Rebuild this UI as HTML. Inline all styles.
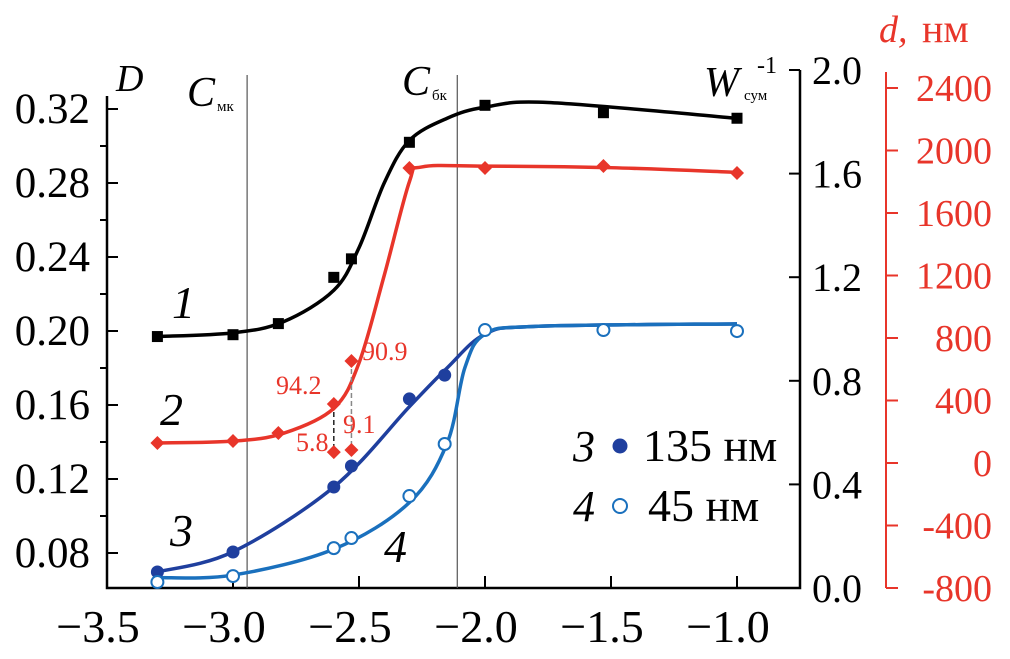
<!DOCTYPE html>
<html><head><meta charset="utf-8"><style>
body{margin:0;background:#fff;}
svg{display:block;font-family:"Liberation Serif","DejaVu Serif",serif;}
</style></head><body>
<svg id="chart" width="1010" height="659" viewBox="0 0 1010 659" xmlns="http://www.w3.org/2000/svg">
<g id="axes"></g><g id="curves"></g><g id="marks"></g><g id="texts"></g>
</svg>
<script>
// ---- data ----
const xTicks = [-3.5, -3.0, -2.5, -2.0, -1.5, -1.0];
const xTickLabels = ["\u22123.5","\u22123.0","\u22122.5","\u22122.0","\u22121.5","\u22121.0"];
const dTicks = [0.08, 0.12, 0.16, 0.20, 0.24, 0.28, 0.32];
const dTickLabels = ["0.08","0.12","0.16","0.20","0.24","0.28","0.32"];
const wTicks = [0.0, 0.4, 0.8, 1.2, 1.6, 2.0];
const wTickLabels = ["0.0","0.4","0.8","1.2","1.6","2.0"];
const nmTicks = [-800, -400, 0, 400, 800, 1200, 1600, 2000, 2400];
const nmTickLabels = ["-800","-400","0","400","800","1200","1600","2000","2400"];

const s1x = [-3.3, -3.0, -2.82, -2.6, -2.53, -2.3, -2.0, -1.53, -1.0];
const s1y = [0.197, 0.198, 0.204, 0.229, 0.239, 0.302, 0.322, 0.318, 0.315];
const s2x = [-3.3, -3.0, -2.82, -2.6, -2.53, -2.3, -2.0, -1.53, -1.0];
const s2y = [128, 141, 192, 378, 653, 1888, 1888, 1901, 1856];
const s2lowX = [-2.6, -2.53];
const s2lowY = [70, 83];
const s3x = [-3.3, -3.0, -2.6, -2.53, -2.3, -2.16];
const s3y = [0.062, 0.139, 0.39, 0.471, 0.73, 0.822];
const s4x = [-3.3, -3.0, -2.6, -2.53, -2.3, -2.16, -2.0, -1.53, -1.0];
const s4y = [0.023, 0.046, 0.154, 0.193, 0.355, 0.556, 0.996, 0.996, 0.992];

const fit1x = [-3.3, -3.0, -2.8, -2.6, -2.5, -2.4, -2.3, -2.15, -2.0, -1.75, -1.0];
const fit1y = [0.197, 0.199, 0.205, 0.222, 0.245, 0.28, 0.303, 0.315, 0.321, 0.3235, 0.315];
const fit2x = [-3.3, -3.0, -2.8, -2.6, -2.5, -2.4, -2.3, -2.25, -2.0, -1.5, -1.0];
const fit2y = [128, 140, 190, 350, 640, 1200, 1800, 1895, 1900, 1890, 1860];
const fit3x = [-3.3, -3.0, -2.6, -2.3, -2.15, -2.0, -1.8, -1.0];
const fit3y = [0.062, 0.14, 0.39, 0.7, 0.85, 0.98, 1.01, 1.02];
const fit4x = [-3.3, -3.0, -2.6, -2.3, -2.15, -2.08, -2.0, -1.8, -1.0];
const fit4y = [0.04, 0.05, 0.15, 0.33, 0.56, 0.85, 0.98, 1.01, 1.02];

// ---- scales ----
const X = v => 107 + (v + 3.5) * 252;
const YD = v => 109 + (0.32 - v) / 0.04 * 74;
const YW = v => 588 - v / 0.4 * 103.6;
const YN = v => 88 + (2400 - v) / 400 * 62.5;

const NS = "http://www.w3.org/2000/svg";
function mk(parent, tag, attrs, text) {
  const e = document.createElementNS(NS, tag);
  for (const k in attrs) e.setAttribute(k, attrs[k]);
  if (text !== undefined) e.textContent = text;
  document.getElementById(parent).appendChild(e);
  return e;
}
function spline(xs, ys, sx, sy) {
  const p = xs.map((x, i) => [sx(x), sy(ys[i])]);
  let d = "M" + p[0][0] + "," + p[0][1];
  for (let i = 0; i < p.length - 1; i++) {
    const p0 = p[i - 1] || p[i], p1 = p[i], p2 = p[i + 1], p3 = p[i + 2] || p2;
    const c1 = [p1[0] + (p2[0] - p0[0]) / 6, p1[1] + (p2[1] - p0[1]) / 6];
    const c2 = [p2[0] - (p3[0] - p1[0]) / 6, p2[1] - (p3[1] - p1[1]) / 6];
    d += " C" + c1 + " " + c2 + " " + p2;
  }
  return d;
}

let e;
e = mk("axes", "path", {d: "M107,96 V588 H800 V70", fill: "none", stroke: "#000", "stroke-width": 2.5});


e = mk("axes", "line", {x1: 886, y1: 72, x2: 886, y2: 588, stroke: "#e8352a", "stroke-width": 2});


xTicks.forEach((v, i) => {
  const t = mk("axes", "line", {x1: X(v), y1: 588, x2: X(v), y2: 576, stroke: "#000", "stroke-width": 2});
  
  
  const l = mk("texts", "text", {x: X(v) - 9, y: 642, "text-anchor": "middle", "font-size": 46}, xTickLabels[i]);
  
  
});
dTicks.forEach((v, i) => {
  const t = mk("axes", "line", {x1: 107, y1: YD(v), x2: 118, y2: YD(v), stroke: "#000", "stroke-width": 2});
  
  
  const l = mk("texts", "text", {x: 90, y: YD(v) + 14, "text-anchor": "end", "font-size": 43}, dTickLabels[i]);
  
  
});
[0.10,0.14,0.18,0.22,0.26,0.30].forEach(v => {
  const t = mk("axes", "line", {x1: 100, y1: YD(v), x2: 107, y2: YD(v), stroke: "#000", "stroke-width": 2});
  
  
});
wTicks.forEach((v, i) => {
  const t = mk("axes", "line", {x1: 789, y1: YW(v), x2: 800, y2: YW(v), stroke: "#000", "stroke-width": 2});
  
  
  const l = mk("texts", "text", {x: 812, y: YW(v) + 14, "font-size": 40}, wTickLabels[i]);
  
  
});
nmTicks.forEach((v, i) => {
  const t = mk("axes", "line", {x1: 886, y1: YN(v), x2: 898, y2: YN(v), stroke: "#e8352a", "stroke-width": 2});
  
  
  const l = mk("texts", "text", {x: 992, y: YN(v) + 13, "text-anchor": "end", "font-size": 38, fill: "#e8352a"}, nmTickLabels[i]);
  
  
});
[-2.944, -2.11].forEach((v, i) => {
  const t = mk("axes", "line", {x1: X(v), y1: 75, x2: X(v), y2: 588, stroke: "#555", "stroke-width": 1.2});
  
  
});

[[fit1x, fit1y, YD, "#000", "curve-1"], [fit2x, fit2y, YN, "#e8352a", "curve-2"],
 [fit3x, fit3y, YW, "#1f3f9e", "curve-3"], [fit4x, fit4y, YW, "#1a70bd", "curve-4"]].forEach(c => {
  const p = mk("curves", "path", {d: spline(c[0], c[1], X, c[2]), fill: "none", stroke: c[3], "stroke-width": 3.5});
  
  
});
s2lowX.forEach((v, i) => {
  const p = mk("curves", "line", {x1: X(v), y1: YN(s2y[3 + i]), x2: X(v), y2: YN(s2lowY[i]), stroke: i ? "#888" : "#222", "stroke-width": 1.5, "stroke-dasharray": "5,3"});
  
  
});

s1x.forEach((v, i) => {
  const m = mk("marks", "rect", {x: X(v) - 5.5, y: YD(s1y[i]) - 5.5, width: 11, height: 11, fill: "#000"});
  
  
});
function diamond(v, y) {
  const cx = X(v), cy = YN(y);
  const m = mk("marks", "path", {d: `M${cx},${cy-7} L${cx+7},${cy} L${cx},${cy+7} L${cx-7},${cy}Z`, fill: "#e8352a"});
  
  
}
s2x.forEach((v, i) => diamond(v, s2y[i]));
s2lowX.forEach((v, i) => diamond(v, s2lowY[i]));
s3x.forEach((v, i) => {
  const m = mk("marks", "circle", {cx: X(v), cy: YW(s3y[i]), r: 6.5, fill: "#1f3f9e"});
  
  
});
s4x.forEach((v, i) => {
  const m = mk("marks", "circle", {cx: X(v), cy: YW(s4y[i]), r: 6, fill: "#fff", stroke: "#1a70bd", "stroke-width": 2});
  
  
});

function txt(name, x, y, s, attrs) {
  const t = mk("texts", "text", Object.assign({x: x, y: y}, attrs), s);
  
  
  return t;
}
txt("d-axis-title", 116, 91, "D", {"font-size": 38, "font-style": "italic"});
txt("c-mk-label", 187, 106, "C", {"font-size": 42, "font-style": "italic"});
txt("c-mk-sub", 217, 111, "мк", {"font-size": 15});
txt("c-bk-label", 402, 95, "C", {"font-size": 42, "font-style": "italic"});
txt("c-bk-sub", 432, 100, "бк", {"font-size": 15});
txt("w-axis-title", 704, 96, "W", {"font-size": 42, "font-style": "italic"});
txt("w-axis-sup", 757, 73, "-1", {"font-size": 24});
txt("w-axis-sub", 744, 100, "сум", {"font-size": 15});
txt("nm-axis-title", 879, 42, "d,", {"font-size": 38, "font-style": "italic", fill: "#e8352a"});
txt("nm-axis-unit", 922, 42, "нм", {"font-size": 40, fill: "#e8352a"});
txt("label-1", 172, 318, "1", {"font-size": 46, "font-style": "italic"});
txt("label-2", 160, 425, "2", {"font-size": 46, "font-style": "italic"});
txt("label-3", 170, 546, "3", {"font-size": 46, "font-style": "italic"});
txt("label-4", 384, 562, "4", {"font-size": 46, "font-style": "italic"});
txt("anno-94-2", 276, 394, "94.2", {"font-size": 26, fill: "#e8352a"});
txt("anno-90-9", 362, 360, "90.9", {"font-size": 26, fill: "#e8352a"});
txt("anno-5-8", 296, 451, "5.8", {"font-size": 26, fill: "#e8352a"});
txt("anno-9-1", 343, 433, "9.1", {"font-size": 26, fill: "#e8352a"});
txt("legend-3-num", 573, 461, "3", {"font-size": 44, "font-style": "italic"});
txt("legend-3-text", 643, 461, "135 нм", {"font-size": 46});
txt("legend-4-num", 573, 521, "4", {"font-size": 44, "font-style": "italic"});
txt("legend-4-text", 648, 521, "45 нм", {"font-size": 46});
e = mk("marks", "circle", {cx: 620, cy: 446, r: 7.5, fill: "#1f3f9e"});


e = mk("marks", "circle", {cx: 620, cy: 506, r: 7, fill: "#fff", stroke: "#1a70bd", "stroke-width": 2});


</script>
</body></html>
